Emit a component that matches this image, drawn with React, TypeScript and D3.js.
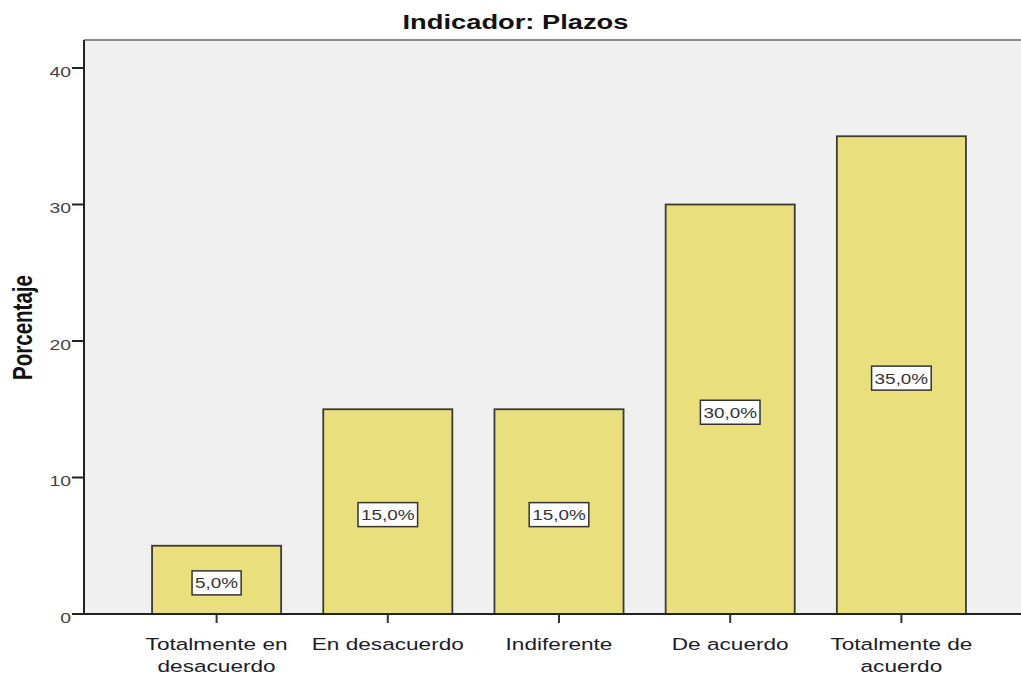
import React from "react";
import * as d3 from "d3";

const categories: string[][] = [
  ["Totalmente en", "desacuerdo"],
  ["En desacuerdo"],
  ["Indiferente"],
  ["De acuerdo"],
  ["Totalmente de", "acuerdo"],
];
const values: number[] = [5, 15, 15, 30, 35];
const valueLabels: string[] = ["5,0%", "15,0%", "15,0%", "30,0%", "35,0%"];
const yTicks: number[] = [0, 10, 20, 30, 40];
const title = "Indicador: Plazos";
const yLabel = "Porcentaje";

const W = 1021;
const H = 676;
const plotLeft = 84;
const plotTop = 40;
const plotBottom = 614;
const SX = 1.33;

let ctx: CanvasRenderingContext2D | null = null;
function measure(text: string, font: string): number {
  if (!ctx) ctx = document.createElement("canvas").getContext("2d");
  if (!ctx) return text.length * 8;
  ctx.font = font;
  return ctx.measureText(text).width;
}

export default function App() {
  const keys = categories.map((c) => c.join(" "));
  const x = d3
    .scaleBand<string>()
    .domain(keys)
    .range([131, 987])
    .paddingInner(0.246)
    .paddingOuter(0.123);
  const y = d3.scaleLinear().domain([0, 40]).range([plotBottom, 68]);

  const labelFontSize = 15.5;
  const labelSX = 1.22;

  return (
    <svg
      width={W}
      height={H}
      style={{ position: "absolute", left: 0, top: 0, background: "#ffffff" }}
      fontFamily="'Liberation Sans', Arial, sans-serif"
    >
      {/* plot background */}
      <rect x={plotLeft} y={plotTop} width={W - plotLeft} height={plotBottom - plotTop} fill="#f0f0f0" />
      <line x1={plotLeft} x2={W} y1={plotTop} y2={plotTop} stroke="#8c8c8c" strokeWidth={2} />

      {/* title */}
      <text
        transform={`translate(515.5,29) scale(1.3,1)`}
        textAnchor="middle"
        fontWeight="bold"
        fontSize={21}
        fill="#111"
      >
        {title}
      </text>

      {/* y label */}
      <text
        transform={`translate(32,327.5) scale(${SX},1) rotate(-90)`}
        textAnchor="middle"
        fontWeight="bold"
        fontSize={20.5}
        fill="#111"
      >
        {yLabel}
      </text>

      {/* bars */}
      {values.map((v, i) => {
        const bx = x(keys[i]) as number;
        const bw = x.bandwidth();
        return (
          <rect
            key={"b" + i}
            x={bx}
            y={y(v)}
            width={bw}
            height={y(0) - y(v)}
            fill="#e9e07d"
            stroke="#3a3a3a"
            strokeWidth={1.8}
          />
        );
      })}

      {/* value labels */}
      {values.map((v, i) => {
        const cx = (x(keys[i]) as number) + x.bandwidth() / 2;
        const cy = y(v / 2) + 3;
        const tw = measure(valueLabels[i], `${labelFontSize}px 'Liberation Sans', Arial`) * labelSX;
        const bw = tw + 6;
        const bh = 24;
        return (
          <g key={"v" + i}>
            <rect
              x={cx - bw / 2}
              y={cy - bh / 2}
              width={bw}
              height={bh}
              fill="#ffffff"
              stroke="#333"
              strokeWidth={1.5}
            />
            <text
              transform={`translate(${cx},${cy + 5.5}) scale(${labelSX},1)`}
              textAnchor="middle"
              fontSize={labelFontSize}
              fill="#333"
            >
              {valueLabels[i]}
            </text>
          </g>
        );
      })}

      {/* axes */}
      <line x1={plotLeft} x2={plotLeft} y1={plotTop} y2={plotBottom + 1} stroke="#222" strokeWidth={2} />
      <line x1={plotLeft - 1} x2={W} y1={plotBottom} y2={plotBottom} stroke="#222" strokeWidth={2} />

      {yTicks.map((t) => (
        <g key={"t" + t}>
          <line x1={plotLeft - 12} x2={plotLeft} y1={y(t)} y2={y(t)} stroke="#222" strokeWidth={2} />
          <text
            transform={`translate(${plotLeft - 13},${y(t) + 8.5}) scale(1.25,1)`}
            textAnchor="end"
            fontSize={15.5}
            fill="#444"
          >
            {t}
          </text>
        </g>
      ))}

      {keys.map((k, i) => {
        const cx = (x(k) as number) + x.bandwidth() / 2;
        return (
          <g key={"x" + i}>
            <line x1={cx} x2={cx} y1={plotBottom} y2={plotBottom + 9} stroke="#333" strokeWidth={2} />
            {categories[i].map((line, j) => (
              <text
                key={j}
                transform={`translate(${cx},${650 + j * 22}) scale(${SX},1)`}
                textAnchor="middle"
                fontSize={17}
                fill="#1c1c28"
              >
                {line}
              </text>
            ))}
          </g>
        );
      })}
    </svg>
  );
}
